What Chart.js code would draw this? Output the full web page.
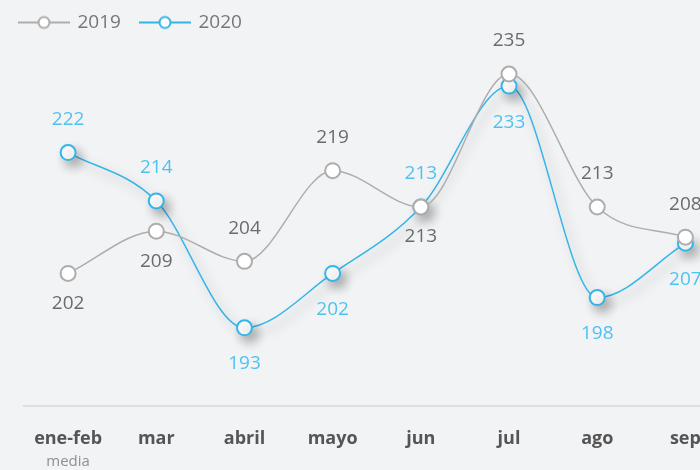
<!DOCTYPE html>
<html>
<head>
<meta charset="utf-8">
<script src="https://cdn.jsdelivr.net/npm/chart.js@4"></script>
<style>
  html, body { margin: 0; padding: 0; background: #f2f3f5; overflow: hidden; width: 700px; height: 470px; }
  #wrap { position: absolute; left: 0; top: 0; width: 739px; height: 472px; }
</style>
</head>
<body>
<div id="wrap"><canvas id="chart" width="739" height="472"></canvas></div>
<script>
// data
const categories = ['ene-feb', 'mar', 'abril', 'mayo', 'jun', 'jul', 'ago', 'sep'];
const values2019 = [202, 209, 204, 219, 213, 235, 213, 208];
const values2020 = [222, 214, 193, 202, 213, 233, 198, 207];
const subLabels = ['media', '', '', '', '', '', '', ''];

// where each value label goes (a = above, b = below)
const place2019 = ['b', 'b', 'a', 'a', 'b', 'a', 'a', 'a'];
const place2020 = ['a', 'a', 'b', 'b', 'a', 'b', 'b', 'b'];

const GREY = '#adadad';
const BLUE = '#33b5ea';
const FONT = "'Open Sans', 'Noto Sans', sans-serif";

// small line + circle image for the legend
function legendIcon(color) {
    const c = document.createElement('canvas');
    c.width = 52; c.height = 16;
    const g = c.getContext('2d');
    g.strokeStyle = color;
    g.lineWidth = 2;
    g.beginPath(); g.moveTo(0, 8); g.lineTo(52, 8); g.stroke();
    g.fillStyle = '#fff';
    g.beginPath(); g.arc(26, 8, 5.5, 0, Math.PI * 2); g.fill(); g.stroke();
    return c;
}

// shadow under the 2020 series
const shadowPlugin = {
    id: 'shadow',
    beforeDatasetDraw(chart, args) {
        if (args.index !== 1) return;
        const ctx = chart.ctx;
        ctx.save();
        ctx.shadowColor = 'rgba(0,0,0,0.32)';
        ctx.shadowBlur = 12;
        ctx.shadowOffsetX = 5;
        ctx.shadowOffsetY = 6;
    },
    afterDatasetDraw(chart, args) {
        if (args.index !== 1) return;
        chart.ctx.restore();
    }
};

// value labels and the "media" sub label
const labelPlugin = {
    id: 'valueLabels',
    afterDatasetsDraw(chart) {
        const ctx = chart.ctx;
        ctx.save();
        ctx.textAlign = 'center';
        ctx.textBaseline = 'middle';
        ctx.font = '19px ' + FONT;
        const places = [place2019, place2020];
        const colors = ['#6b6b6b', '#4fc2f0'];
        const below = [30, 36];
        chart.data.datasets.forEach((ds, i) => {
            const meta = chart.getDatasetMeta(i);
            ctx.fillStyle = colors[i];
            meta.data.forEach((pt, j) => {
                const dy = places[i][j] === 'a' ? -33 : below[i];
                ctx.fillText(ds.data[j], pt.x, pt.y + dy);
            });
        });
        const xs = chart.scales.x;
        ctx.font = '15px ' + FONT;
        ctx.fillStyle = '#8f8f8f';
        subLabels.forEach((s, j) => {
            if (s) ctx.fillText(s, xs.getPixelForValue(j), 462);
        });
        ctx.restore();
    }
};

new Chart(document.getElementById('chart'), {
    type: 'line',
    data: {
        labels: categories,
        datasets: [
            {
                label: '2019',
                data: values2019,
                borderColor: GREY,
                borderWidth: 1.5,
                pointRadius: 7.5,
                pointBorderWidth: 2,
                pointBackgroundColor: '#fff',
                pointBorderColor: GREY,
                cubicInterpolationMode: 'monotone',
                clip: false
            },
            {
                label: '2020',
                data: values2020,
                borderColor: BLUE,
                borderWidth: 1.5,
                pointRadius: 7.5,
                pointBorderWidth: 2,
                pointBackgroundColor: '#fff',
                pointBorderColor: BLUE,
                cubicInterpolationMode: 'monotone',
                clip: false
            }
        ]
    },
    options: {
        responsive: false,
        animation: false,
        devicePixelRatio: 1,
        layout: { padding: { left: 0, top: -7, right: 0, bottom: 0 } },
        plugins: {
            tooltip: { enabled: false },
            legend: {
                position: 'top',
                align: 'start',
                labels: {
                    usePointStyle: true,
                    pointStyleWidth: 48,
                    padding: 20,
                    color: '#777',
                    font: { family: FONT, size: 19 },
                    generateLabels(chart) {
                        return chart.data.datasets.map((ds, i) => ({
                            text: ds.label,
                            pointStyle: legendIcon(ds.borderColor),
                            fontColor: '#777',
                            datasetIndex: i,
                            lineWidth: 0
                        }));
                    }
                }
            }
        },
        scales: {
            x: {
                offset: true,
                grid: { display: false, drawTicks: false },
                border: { display: true, color: '#dedfe1', width: 2 },
                ticks: {
                    padding: 22,
                    color: '#555',
                    font: { family: FONT, size: 18, weight: 'bold' }
                }
            },
            y: {
                min: 180,
                max: 240.3,
                grid: { display: false },
                border: { display: false },
                ticks: { display: false },
                afterFit(scale) { scale.width = 24; }
            }
        }
    },
    plugins: [shadowPlugin, labelPlugin]
});
</script>
</body>
</html>
